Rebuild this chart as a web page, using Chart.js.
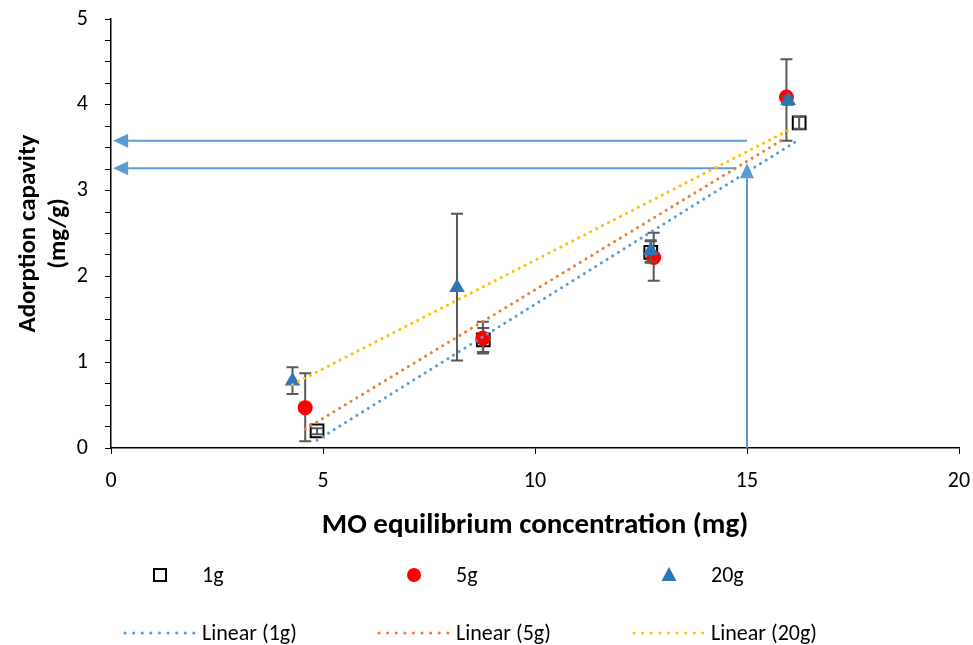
<!DOCTYPE html>
<html>
<head>
<meta charset="utf-8">
<script src="https://cdn.jsdelivr.net/npm/chart.js@4.4.1/dist/chart.umd.min.js"></script>
<style>
  html, body { margin: 0; padding: 0; background: #fff; }
  #wrap { width: 973px; height: 645px; position: relative; }
</style>
</head>
<body>
<div id="wrap"><canvas id="adsorption-canvas"></canvas></div>
<script>
'use strict';

// series
const seriesNames = ['1g', '5g', '20g'];
const x1g = [4.86, 8.78, 12.73, 16.23];
const y1g = [0.20, 1.26, 2.28, 3.79];
const lo1g = [0.16, 1.12, 2.16, 3.72];
const hi1g = [0.23, 1.40, 2.41, 3.86];

const x5g = [4.58, 8.77, 12.80, 15.93];
const y5g = [0.47, 1.28, 2.22, 4.09];
const lo5g = [0.08, 1.10, 1.95, 3.58];
const hi5g = [0.87, 1.47, 2.51, 4.53];

const x20g = [4.28, 8.16, 12.73, 15.97];
const y20g = [0.78, 1.87, 2.30, 4.05];
const lo20g = [0.63, 1.02, 2.17, 4.00];
const hi20g = [0.94, 2.73, 2.42, 4.10];

// linear trend lines (end points)
const trendX1g = [4.86, 16.15];
const trendY1g = [0.09, 3.57];
const trendX5g = [4.58, 15.93];
const trendY5g = [0.22, 3.62];
const trendX20g = [4.28, 15.97];
const trendY20g = [0.74, 3.70];

// blue guide arrows, in data units: [x, y] start -> end (arrow head at end)
const arrowFrom = [[15, 3.58], [14.75, 3.26], [15, 0]];
const arrowTo = [[0.05, 3.58], [0.05, 3.26], [15, 3.32]];

const xTitle = 'MO equilibrium concentration (mg)';
const yTitle = ['Adorption capavity', '(mg/g)'];

const FONT = 'Carlito, Calibri, Lato, sans-serif';
const blue = '#5B9BD5', orange = '#ED7D31', yellow = '#FFC000';
const red = '#FF0000', darkBlue = '#2E75B6', barGrey = '#595959';

function pts(xs, ys) {
    return xs.map((x, i) => ({x: x, y: ys[i]}));
}

function trend(label, xs, ys, color) {
    return {
        label: label, type: 'line', data: pts(xs, ys), order: 0,
        borderColor: color, borderWidth: 3, borderDash: [0.1, 6.6],
        borderCapStyle: 'round', pointRadius: 0, fill: false
    };
}

const errors = [[lo1g, hi1g], [lo5g, hi5g], [lo20g, hi20g]];

function drawBars(chart, idx) {
    let ctx = chart.ctx;
    let xs = chart.scales.x, ys = chart.scales.y;
    let data = chart.data.datasets[idx].data;
    let [lo, hi] = errors[idx];
    ctx.save();
    ctx.strokeStyle = barGrey;
    ctx.lineWidth = 2;
    data.forEach((p, i) => {
        let px = xs.getPixelForValue(p.x);
        let a = ys.getPixelForValue(lo[i]), b = ys.getPixelForValue(hi[i]);
        ctx.beginPath();
        ctx.moveTo(px, a); ctx.lineTo(px, b);
        ctx.moveTo(px - 6, a); ctx.lineTo(px + 6, a);
        ctx.moveTo(px - 6, b); ctx.lineTo(px + 6, b);
        ctx.stroke();
    });
    ctx.restore();
}

function drawArrows(chart) {
    let ctx = chart.ctx;
    let xs = chart.scales.x, ys = chart.scales.y;
    ctx.save();
    ctx.strokeStyle = blue;
    ctx.fillStyle = blue;
    ctx.lineWidth = 2;
    for (let i = 0; i < arrowFrom.length; i++) {
        let x0 = xs.getPixelForValue(arrowFrom[i][0]), y0 = ys.getPixelForValue(arrowFrom[i][1]);
        let x1 = xs.getPixelForValue(arrowTo[i][0]), y1 = ys.getPixelForValue(arrowTo[i][1]);
        let ang = Math.atan2(y1 - y0, x1 - x0);
        let len = 15, half = 7;
        let bx = x1 - Math.cos(ang) * len, by = y1 - Math.sin(ang) * len;
        ctx.beginPath();
        ctx.moveTo(x0, y0); ctx.lineTo(bx, by);
        ctx.stroke();
        ctx.beginPath();
        ctx.moveTo(x1, y1);
        ctx.lineTo(bx + Math.sin(ang) * half, by - Math.cos(ang) * half);
        ctx.lineTo(bx - Math.sin(ang) * half, by + Math.cos(ang) * half);
        ctx.closePath();
        ctx.fill();
    }
    ctx.restore();
}

function drawMarker(ctx, kind, x, y) {
    ctx.beginPath();
    if (kind === 0) {
        ctx.fillStyle = '#fff'; ctx.strokeStyle = '#000'; ctx.lineWidth = 2;
        ctx.rect(x - 6, y - 6, 12, 12);
        ctx.fill(); ctx.stroke();
    } else if (kind === 1) {
        ctx.fillStyle = red;
        ctx.arc(x, y, 7, 0, Math.PI * 2);
        ctx.fill();
    } else {
        ctx.fillStyle = darkBlue;
        ctx.moveTo(x, y - 8); ctx.lineTo(x + 7.5, y + 6); ctx.lineTo(x - 7.5, y + 6);
        ctx.closePath();
        ctx.fill();
    }
}

//Своя легенда под графиком: два ряда, как в оригинале
function drawLegend(chart) {
    let ctx = chart.ctx;
    let markX = [160, 414, 669];
    let lineX = [125, 379, 634];
    let textX = [202, 456, 711];
    let colors = [blue, orange, yellow];
    ctx.save();
    ctx.font = '22px ' + FONT;
    ctx.textBaseline = 'middle';
    ctx.fillStyle = '#000';
    for (let i = 0; i < 3; i++) {
        drawMarker(ctx, i, markX[i], 575);
        ctx.fillStyle = '#000';
        ctx.fillText(seriesNames[i], textX[i], 576);
        ctx.beginPath();
        ctx.strokeStyle = colors[i];
        ctx.lineWidth = 3;
        ctx.lineCap = 'round';
        ctx.setLineDash([0.1, 8.5]);
        ctx.moveTo(lineX[i], 633); ctx.lineTo(lineX[i] + 69, 633);
        ctx.stroke();
        ctx.setLineDash([]);
        ctx.fillStyle = '#000';
        ctx.fillText('Linear (' + seriesNames[i] + ')', textX[i], 634);
    }
    ctx.restore();
}

const overlay = {
    id: 'overlay',
    beforeDatasetsDraw(chart) { drawArrows(chart); },
    beforeDatasetDraw(chart, args) {
        if (args.index === 1 || args.index === 2) drawBars(chart, args.index);
    },
    afterDatasetDraw(chart, args) {
        if (args.index === 0) drawBars(chart, 0);
    },
    afterDraw(chart) { drawLegend(chart); }
};

let ctx = document.getElementById('adsorption-canvas');
let chart = new Chart(ctx, {
    type: 'scatter',
    data: {
        datasets: [
            {label: '1g', data: pts(x1g, y1g), order: 3, pointStyle: 'rect', pointRadius: 9,
                backgroundColor: '#fff', borderColor: '#000', borderWidth: 2},
            {label: '5g', data: pts(x5g, y5g), order: 2, pointStyle: 'circle', pointRadius: 7.5,
                backgroundColor: red, borderColor: red, borderWidth: 0},
            {label: '20g', data: pts(x20g, y20g), order: 1, pointStyle: 'triangle', pointRadius: 9,
                backgroundColor: darkBlue, borderColor: darkBlue, borderWidth: 0},
            trend('Linear (1g)', trendX1g, trendY1g, blue),
            trend('Linear (5g)', trendX5g, trendY5g, orange),
            trend('Linear (20g)', trendX20g, trendY20g, yellow)
        ]
    },
    options: {
        responsive: true,
        maintainAspectRatio: false,
        animation: false,
        layout: {padding: {top: 19, right: 14, bottom: 97, left: 0}},
        plugins: {
            legend: {display: false},
            tooltip: {enabled: false}
        },
        scales: {
            x: {
                type: 'linear', min: 0, max: 20,
                afterFit(scale) {
                    scale.height = 100;
                    scale.paddingLeft = 0;
                    scale.paddingRight = 0;
                },
                ticks: {stepSize: 5, autoSkip: false, padding: 14, color: '#000',
                    font: {family: FONT, size: 22}},
                grid: {display: true, drawOnChartArea: false, drawTicks: true, tickLength: 6, color: '#000'},
                border: {color: '#000', width: 1.5},
                title: {display: true, text: xTitle, color: '#000', padding: {top: 4, bottom: 5},
                    font: {family: FONT, size: 29, weight: 'bold'}}
            },
            y: {
                type: 'linear', min: 0, max: 5,
                afterFit(scale) {
                    scale.width = 111;
                    scale.paddingTop = 0;
                    scale.paddingBottom = 0;
                },
                ticks: {stepSize: 0.25, autoSkip: false, padding: 17, color: '#000',
                    font: {family: FONT, size: 22},
                    callback: v => Math.abs(v - Math.round(v)) < 1e-6 ? String(Math.round(v)) : ''},
                grid: {display: true, drawOnChartArea: false, drawTicks: true, tickLength: 6, color: '#000'},
                border: {color: '#000', width: 1.5},
                title: {display: true, text: yTitle, color: '#000', padding: {top: 14, bottom: 0},
                    font: {family: FONT, size: 25, weight: 'bold'}}
            }
        }
    },
    plugins: [overlay]
});
</script>
</body>
</html>
